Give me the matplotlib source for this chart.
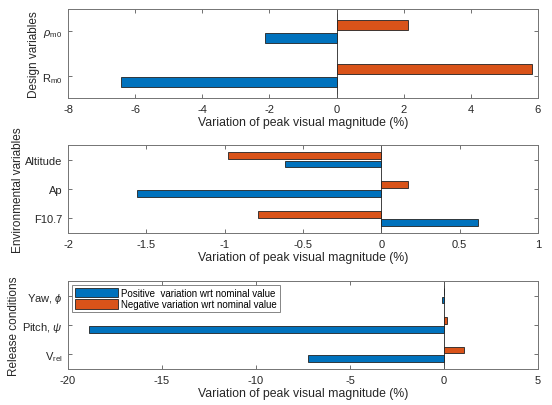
import numpy as np
import matplotlib
matplotlib.use('Agg')
import matplotlib.pyplot as plt

plt.rcParams['font.family'] = ['Liberation Sans', 'DejaVu Sans']
plt.rcParams['mathtext.fontset'] = 'custom'
plt.rcParams['mathtext.rm'] = 'Liberation Sans'
plt.rcParams['mathtext.it'] = 'Liberation Sans:italic'

# design variables
design_labels = ['R$_{\\mathrm{m0}}$', '$\\rho_{\\mathrm{m0}}$']
design_pos = [-6.42, -2.14]
design_neg = [5.81, 2.12]

# environmental variables
env_labels = ['F10.7', 'Ap', 'Altitude']
env_pos = [0.62, -1.56, -0.615]
env_neg = [-0.79, 0.168, -0.98]

# release conditions
rel_labels = ['V$_{\\mathrm{rel}}$', 'Pitch, $\\psi$', 'Yaw, $\\phi$']
rel_pos = [-7.22, -18.87, -0.12]
rel_neg = [1.05, 0.16, 0.0]

blue = '#0072BD'
orange = '#D95319'
xlabel = 'Variation of peak visual magnitude (%)'

panels = [
    (design_labels, design_pos, design_neg, 'Design variables', (-8, 6), np.arange(-8, 7, 2)),
    (env_labels, env_pos, env_neg, 'Environmental variables', (-2, 1), np.arange(-2, 1.01, 0.5)),
    (rel_labels, rel_pos, rel_neg, 'Release conditions', (-20, 5), np.arange(-20, 6, 5)),
]

fig = plt.figure(figsize=(5.52, 4.06), dpi=100)
bottoms = [0.7562, 0.4236, 0.0887]
heights = [0.2192, 0.2167, 0.2167]

# grouped barh like matlab: two series offset around each category
off = 0.143
h = 0.229
for (labels, pos, neg, ylab, xlim, xt), b, ht in zip(panels, bottoms, heights):
    ax = fig.add_axes([0.1232, b, 0.8514, ht])
    y = np.arange(1, len(labels) + 1)
    ax.barh(y - off, pos, height=h, color=blue, edgecolor='#222222', linewidth=0.6,
            label='Positive  variation wrt nominal value')
    ax.barh(y + off, neg, height=h, color=orange, edgecolor='#222222', linewidth=0.6,
            label='Negative variation wrt nominal value')
    ax.axvline(0, color='0.25', lw=0.7, zorder=0)
    ax.set_xlim(*xlim)
    ax.set_ylim(0.5, len(labels) + 0.5)
    ax.set_xticks(xt)
    ax.set_xticklabels([('%g' % v) for v in xt])
    ax.set_yticks(y)
    ax.set_yticklabels(labels)
    ax.set_xlabel(xlabel, fontsize=8.8, labelpad=2, color='0.15')
    ax.set_ylabel(ylab, fontsize=8.5, labelpad=1, color='0.15')
    ax.tick_params(direction='in', length=3, width=0.6, top=True, right=True,
                   labelsize=8, colors='0.35', labelcolor='0.15', pad=4)
    for s in ax.spines.values():
        s.set_color('0.45')
        s.set_linewidth(0.7)
    if ylab == 'Release conditions':
        leg = ax.legend(loc='upper left', fontsize=7, frameon=True, fancybox=False,
                        edgecolor='0.4', handlelength=4.4, handleheight=1.1,
                        borderpad=0.3, labelspacing=0.15, handletextpad=0.4,
                        borderaxespad=0.4)
        leg.get_frame().set_linewidth(0.7)

fig.savefig('out.png', dpi=100)
